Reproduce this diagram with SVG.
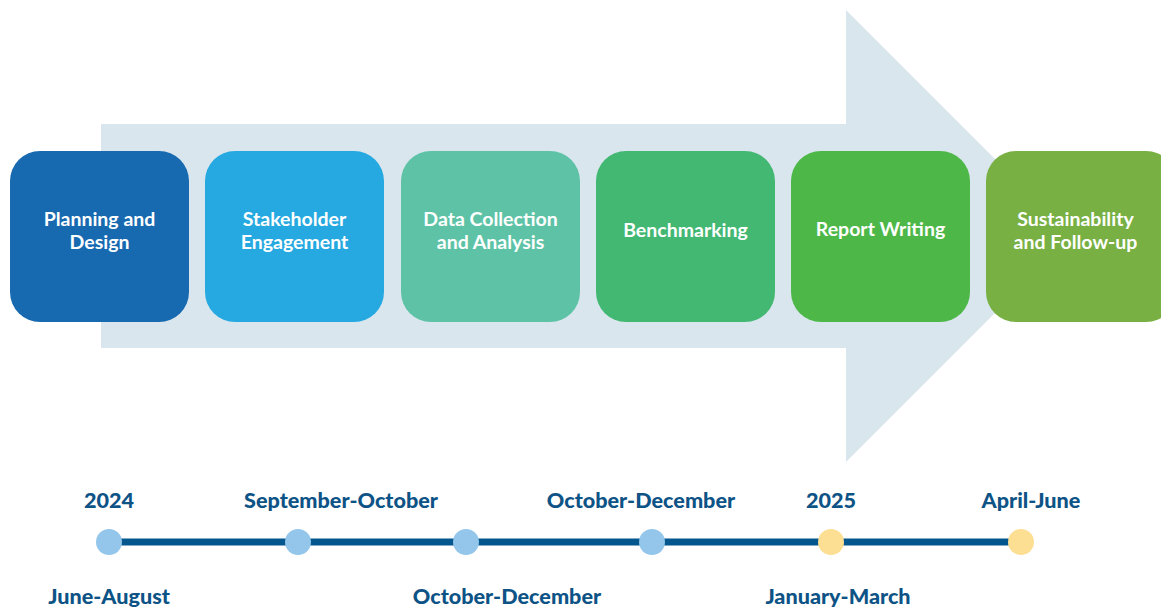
<svg xmlns="http://www.w3.org/2000/svg" width="1161" height="612" viewBox="0 0 1161 612">
<style>
.box{stroke:none}
.bt{font-family:Lato,"Liberation Sans",sans-serif;font-weight:bold;font-size:19.5px;fill:#ffffff;text-anchor:middle}
.tl{font-family:Lato,"Liberation Sans",sans-serif;font-weight:900;font-size:21.6px;fill:#0D5386;text-anchor:middle}
.blue{fill:#93C6EA}
.yel{fill:#FDDF93}
</style>
<rect width="1161" height="612" fill="#ffffff"/>
<g id="arrow">
<polygon points="101,124 846,124 846,10 1072,236 846,462 846,348 101,348" fill="#DAE6EE"/>
</g>
<g id="n1"><rect class="box" x="10" y="151" width="179" height="171" rx="30" fill="#1769B0"/><text class="bt" x="99.5" y="226">Planning and</text><text class="bt" x="99.5" y="249">Design</text></g>
<g id="n2"><rect class="box" x="205" y="151" width="179" height="171" rx="30" fill="#25A9E0"/><text class="bt" x="294.5" y="226">Stakeholder</text><text class="bt" x="294.5" y="249">Engagement</text></g>
<g id="n3"><rect class="box" x="401" y="151" width="179" height="171" rx="30" fill="#5EC3A6"/><text class="bt" x="490.5" y="226">Data Collection</text><text class="bt" x="490.5" y="249">and Analysis</text></g>
<g id="n4"><rect class="box" x="596" y="151" width="179" height="171" rx="30" fill="#42B873"/><text class="bt" x="685.5" y="237">Benchmarking</text></g>
<g id="n5"><rect class="box" x="791" y="151" width="179" height="171" rx="30" fill="#4DB848"/><text class="bt" x="880.5" y="236">Report Writing</text></g>
<g id="n6"><rect class="box" x="986" y="151" width="190" height="171" rx="30" fill="#78B043"/><text class="bt" x="1075.5" y="226">Sustainability</text><text class="bt" x="1075.5" y="249">and Follow-up</text></g>
<g id="connectors">
<line x1="109" y1="542" x2="1021" y2="542" stroke="#03578E" stroke-width="7"/>
</g>
<g id="t1"><circle class="blue" cx="109" cy="542" r="13"/><text class="tl" x="109" y="508">2024</text><text class="tl" x="109" y="604">June-August</text></g>
<g id="t2"><circle class="blue" cx="298" cy="542" r="13"/><text class="tl" x="341" y="508">September-October</text></g>
<g id="t3"><circle class="blue" cx="466" cy="542" r="13"/><text class="tl" x="507" y="604">October-December</text></g>
<g id="t4"><circle class="blue" cx="652" cy="542" r="13"/><text class="tl" x="641" y="508">October-December</text></g>
<g id="t5"><circle class="yel" cx="831" cy="542" r="13"/><text class="tl" x="831" y="508">2025</text><text class="tl" x="838" y="604">January-March</text></g>
<g id="t6"><circle class="yel" cx="1021" cy="542" r="13"/><text class="tl" x="1031" y="508">April-June</text></g>
</svg>
